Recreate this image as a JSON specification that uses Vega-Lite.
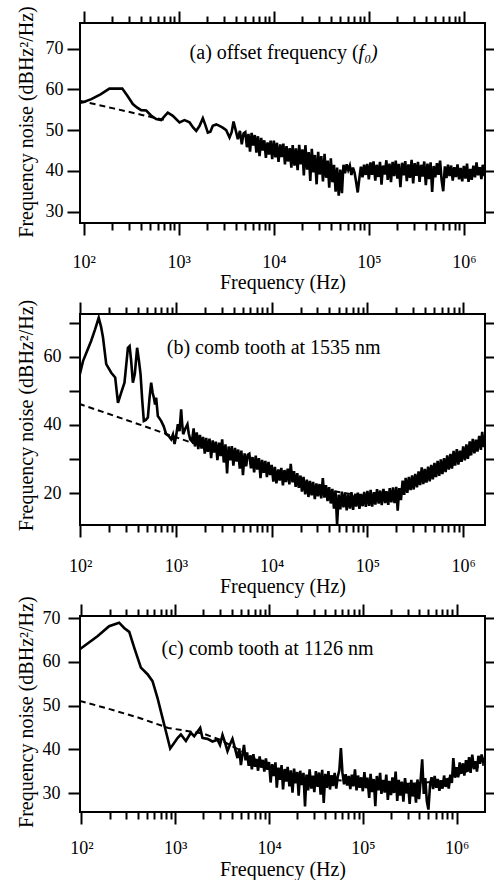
{
"$schema": "https://vega.github.io/schema/vega-lite/v6.json",
"background": "white",
"padding": {"left": 14, "top": 4, "right": 0, "bottom": 0},
"bounds": "flush",
"spacing": 91,
"config": {
  "font": "Liberation Serif",
  "view": {"stroke": "black", "strokeWidth": 2},
  "axis": {"labelFont": "Liberation Serif", "titleFont": "Liberation Serif", "labelFontSize": 18, "titleFontSize": 20, "titleFontWeight": "normal", "labelColor": "black", "titleColor": "black", "tickColor": "black", "tickWidth": 2, "grid": false, "domain": false, "labelOverlap": false, "labelFlush": false, "labelBound": false}
},
"datasets": {
"afit": [{"f":91,"v":57.2},{"f":200,"v":55.4},{"f":400,"v":53.8},{"f":760,"v":52.3}],
"a": [{"f":91,"v":56.7},{"f":100,"v":56.9},{"f":120,"v":57.6},{"f":150,"v":58.8},{"f":186,"v":60.2},{"f":254,"v":60.2},{"f":290,"v":58.3},{"f":328,"v":56.4},{"f":365,"v":55.5},{"f":402,"v":54.9},{"f":454,"v":54.8},{"f":510,"v":53.6},{"f":578,"v":52.7},{"f":653,"v":52.45},{"f":720,"v":53.6},{"f":766,"v":54.3},{"f":865,"v":53.5},{"f":1016,"v":51.9},{"f":1148,"v":52.45},{"f":1297,"v":51.9},{"f":1420,"v":50.6},{"f":1525,"v":49.8},{"f":1650,"v":51.0},{"f":1791,"v":52.9},{"f":1900,"v":51.3},{"f":2020,"v":49.4},{"f":2150,"v":49.6},{"f":2279,"v":51.05},{"f":2480,"v":51.4},{"f":2680,"v":51.05},{"f":2900,"v":50.6},{"f":3152,"v":50.0},{"f":3418,"v":48.2},{"f":3600,"v":49.5},{"f":3768,"v":52.1},{"f":3950,"v":50.2},{"f":4180,"v":47.8},{"f":4400,"v":49.8},{"f":4600,"v":46.5},{"f":4800,"v":49.2},
{"f":5010,"v":49.5},{"f":5210,"v":45.8},{"f":5410,"v":49.1},{"f":5620,"v":44.7},{"f":5840,"v":49.3},{"f":6070,"v":46.2},{"f":6310,"v":48.8},{"f":6560,"v":44.5},{"f":6810,"v":48.5},{"f":7080,"v":43.6},{"f":7360,"v":48.1},{"f":7640,"v":45.0},{"f":7940,"v":47.5},{"f":8250,"v":43.2},{"f":8580,"v":47.0},{"f":8910,"v":44.0},{"f":9260,"v":47.4},{"f":9620,"v":42.9},
{"f":10000,"v":47.4},{"f":10400,"v":43.3},{"f":10800,"v":46.9},{"f":11200,"v":42.2},{"f":11700,"v":46.5},{"f":12100,"v":43.4},{"f":12600,"v":46.7},{"f":13100,"v":41.6},{"f":13600,"v":46.1},{"f":14100,"v":42.3},{"f":14700,"v":45.6},{"f":15300,"v":40.8},{"f":15800,"v":46.3},{"f":16500,"v":41.3},{"f":17100,"v":45.5},{"f":17800,"v":40.2},{"f":18500,"v":46.4},{"f":19200,"v":41.6},{"f":20000,"v":45.3},{"f":20700,"v":38.9},{"f":21500,"v":46.3},{"f":22400,"v":40.3},{"f":23300,"v":44.6},{"f":24200,"v":37.5},{"f":25100,"v":45.4},{"f":26100,"v":39.6},{"f":27100,"v":43.9},{"f":28200,"v":36.7},{"f":29300,"v":44.7},{"f":30400,"v":39.1},{"f":31600,"v":43.6},{"f":32900,"v":37.4},{"f":34200,"v":44.2},{"f":35500,"v":38.3},{"f":36900,"v":42.5},{"f":38300,"v":35.9},{"f":39800,"v":43.1},{"f":41400,"v":37.2},{"f":43000,"v":41.5},{"f":44700,"v":34.9},{"f":46400,"v":40.8},{"f":48200,"v":33.9},{"f":50100,"v":40.3},{"f":52100,"v":34.5},{"f":54100,"v":41.5},{"f":56200,"v":39.4},{"f":58400,"v":41.6},{"f":60700,"v":40.2},{"f":63100,"v":41.3},{"f":65600,"v":39.0},{"f":68100,"v":40.8},{"f":70800,"v":39.5},{"f":73600,"v":37.2},{"f":76400,"v":34.7},{"f":79400,"v":38.1},{"f":82500,"v":41.0},{"f":85800,"v":38.4},{"f":89100,"v":41.5},{"f":92600,"v":39.0},{"f":96200,"v":41.7},
{"f":100000,"v":37.9},{"f":104000,"v":42.1},{"f":108000,"v":39.0},{"f":112000,"v":42.3},{"f":117000,"v":37.6},{"f":121000,"v":41.5},{"f":126000,"v":38.5},{"f":131000,"v":42.2},{"f":136000,"v":36.6},{"f":141000,"v":41.3},{"f":147000,"v":39.1},{"f":153000,"v":42.6},{"f":158000,"v":37.8},{"f":165000,"v":41.8},{"f":171000,"v":37.2},{"f":178000,"v":42.2},{"f":185000,"v":38.7},{"f":192000,"v":42.5},{"f":200000,"v":38.1},{"f":207000,"v":41.7},{"f":215000,"v":36.0},{"f":224000,"v":42.0},{"f":233000,"v":38.9},{"f":242000,"v":42.4},{"f":251000,"v":37.5},{"f":261000,"v":41.6},{"f":271000,"v":38.3},{"f":282000,"v":42.7},{"f":293000,"v":36.9},{"f":304000,"v":41.9},{"f":316000,"v":38.8},{"f":329000,"v":42.2},{"f":342000,"v":37.3},{"f":355000,"v":41.5},{"f":369000,"v":38.6},{"f":383000,"v":42.3},{"f":398000,"v":36.5},{"f":414000,"v":41.8},{"f":430000,"v":38.0},{"f":447000,"v":42.1},{"f":464000,"v":34.8},{"f":482000,"v":41.2},{"f":501000,"v":38.4},{"f":521000,"v":41.9},{"f":541000,"v":39.0},{"f":562000,"v":42.5},{"f":584000,"v":37.7},{"f":607000,"v":35.0},{"f":631000,"v":41.1},{"f":656000,"v":38.2},{"f":681000,"v":41.5},{"f":708000,"v":38.7},{"f":736000,"v":41.3},{"f":764000,"v":37.6},{"f":794000,"v":40.9},{"f":825000,"v":38.5},{"f":858000,"v":41.6},{"f":891000,"v":37.9},{"f":926000,"v":40.7},{"f":962000,"v":37.4},
{"f":1000000,"v":41.2},{"f":1040000,"v":38.1},{"f":1080000,"v":41.8},{"f":1120000,"v":37.3},{"f":1170000,"v":40.5},{"f":1210000,"v":37.8},{"f":1260000,"v":41.3},{"f":1310000,"v":38.4},{"f":1360000,"v":42.1},{"f":1410000,"v":38.9},{"f":1470000,"v":40.9},{"f":1530000,"v":38.0},{"f":1580000,"v":41.5},{"f":1650000,"v":38.7},{"f":1710000,"v":40.4}],
"bfit": [{"f":97,"v":46.2},{"f":200,"v":43.2},{"f":400,"v":40.3},{"f":700,"v":37.9},{"f":1000,"v":36.4},{"f":2000,"v":33.5},{"f":4000,"v":30.6},{"f":10000,"v":26.8},{"f":20000,"v":23.8},{"f":40000,"v":20.8},{"f":70000,"v":19.7},{"f":100000,"v":19.3},{"f":200000,"v":20.5},{"f":400000,"v":23.5},{"f":1000000,"v":30.0},{"f":1700000,"v":34.5}],
"b": [{"f":99,"v":54.8},{"f":107,"v":58.7},{"f":120,"v":62.2},{"f":130,"v":64.6},{"f":143,"v":68.0},{"f":156,"v":71.4},{"f":165,"v":68.8},{"f":173,"v":65.6},{"f":187,"v":57.8},{"f":211,"v":55.3},{"f":232,"v":53.9},{"f":248,"v":46.5},{"f":268,"v":49.5},{"f":290,"v":52.4},{"f":315,"v":62.6},{"f":328,"v":63.1},{"f":340,"v":59.0},{"f":355,"v":52.4},{"f":372,"v":55.0},{"f":393,"v":62.6},{"f":410,"v":59.0},{"f":427,"v":54.8},{"f":445,"v":47.0},{"f":462,"v":41.2},{"f":485,"v":41.5},{"f":509,"v":42.2},{"f":530,"v":48.0},{"f":551,"v":52.4},{"f":570,"v":49.5},{"f":588,"v":48.0},{"f":605,"v":46.0},{"f":621,"v":48.0},{"f":647,"v":42.6},{"f":700,"v":41.2},{"f":745,"v":39.6},{"f":790,"v":37.3},{"f":840,"v":36.8},{"f":891,"v":35.8},{"f":930,"v":37.2},{"f":966,"v":34.4},{"f":1000,"v":36.5},{"f":1047,"v":40.2},{"f":1090,"v":38.2},{"f":1133,"v":44.6},{"f":1160,"v":40.5},{"f":1190,"v":37.3},{"f":1250,"v":38.9},{"f":1318,"v":40.2},{"f":1360,"v":37.5},{"f":1410,"v":35.8},
{"f":1470,"v":35.2},{"f":1530,"v":39.0},{"f":1580,"v":33.7},{"f":1650,"v":37.8},{"f":1710,"v":32.9},{"f":1780,"v":37.1},{"f":1850,"v":33.1},{"f":1920,"v":36.5},{"f":2000,"v":31.6},{"f":2070,"v":36.2},{"f":2150,"v":32.1},{"f":2240,"v":36.0},{"f":2330,"v":30.3},{"f":2420,"v":35.5},{"f":2510,"v":31.9},{"f":2610,"v":35.1},{"f":2710,"v":29.7},{"f":2820,"v":34.8},{"f":2930,"v":30.9},{"f":3040,"v":35.8},{"f":3160,"v":29.0},{"f":3290,"v":34.3},{"f":3420,"v":25.8},{"f":3550,"v":33.7},{"f":3690,"v":29.6},{"f":3830,"v":33.8},{"f":3980,"v":28.1},{"f":4140,"v":33.3},{"f":4300,"v":29.3},{"f":4470,"v":32.8},{"f":4640,"v":27.2},{"f":4820,"v":32.5},{"f":5010,"v":25.3},{"f":5210,"v":31.7},{"f":5410,"v":27.9},{"f":5620,"v":31.3},{"f":5840,"v":31.6},{"f":6070,"v":27.3},{"f":6310,"v":30.6},{"f":6560,"v":26.1},{"f":6810,"v":31.0},{"f":7080,"v":26.9},{"f":7360,"v":30.3},{"f":7640,"v":24.4},{"f":7940,"v":29.8},{"f":8250,"v":26.0},{"f":8580,"v":29.5},{"f":8910,"v":24.7},{"f":9260,"v":29.2},{"f":9620,"v":25.3},
{"f":10000,"v":28.3},{"f":10400,"v":23.4},{"f":10800,"v":27.7},{"f":11200,"v":22.9},{"f":11700,"v":27.0},{"f":12100,"v":23.7},{"f":12600,"v":27.4},{"f":13100,"v":22.3},{"f":13600,"v":26.8},{"f":14100,"v":23.3},{"f":14700,"v":27.2},{"f":15300,"v":22.6},{"f":15800,"v":28.6},{"f":16500,"v":23.2},{"f":17100,"v":26.5},{"f":17800,"v":21.9},{"f":18500,"v":25.9},{"f":19200,"v":21.6},{"f":20000,"v":25.2},{"f":20700,"v":20.5},{"f":21500,"v":24.8},{"f":22400,"v":19.7},{"f":23300,"v":24.0},{"f":24200,"v":18.9},{"f":25100,"v":23.6},{"f":26100,"v":19.4},{"f":27100,"v":23.3},{"f":28200,"v":18.3},{"f":29300,"v":22.9},{"f":30400,"v":19.1},{"f":31600,"v":22.7},{"f":32900,"v":18.5},{"f":34200,"v":24.4},{"f":35500,"v":18.7},{"f":36900,"v":22.4},{"f":38300,"v":17.7},{"f":39800,"v":21.8},{"f":41400,"v":17.0},{"f":43000,"v":21.3},{"f":44700,"v":15.5},{"f":46400,"v":20.7},{"f":48200,"v":10.8},{"f":50100,"v":19.6},{"f":52100,"v":15.3},{"f":54100,"v":20.5},{"f":56200,"v":15.9},{"f":58400,"v":20.1},{"f":60700,"v":15.0},{"f":63100,"v":19.7},{"f":65600,"v":15.5},{"f":68100,"v":20.3},{"f":70800,"v":15.1},{"f":73600,"v":19.5},{"f":76400,"v":16.1},{"f":79400,"v":20.2},{"f":82500,"v":15.4},{"f":85800,"v":19.8},{"f":89100,"v":16.2},{"f":92600,"v":20.4},{"f":96200,"v":16.0},
{"f":100000,"v":20.7},{"f":104000,"v":16.3},{"f":108000,"v":21.0},{"f":112000,"v":16.1},{"f":117000,"v":20.3},{"f":121000,"v":16.7},{"f":126000,"v":21.2},{"f":131000,"v":17.0},{"f":136000,"v":20.8},{"f":141000,"v":16.5},{"f":147000,"v":21.3},{"f":153000,"v":17.1},{"f":158000,"v":20.6},{"f":165000,"v":16.6},{"f":171000,"v":21.5},{"f":178000,"v":17.3},{"f":185000,"v":21.7},{"f":192000,"v":17.1},{"f":200000,"v":21.9},{"f":207000,"v":14.9},{"f":215000,"v":21.5},{"f":224000,"v":18.0},{"f":233000,"v":23.7},{"f":242000,"v":19.5},{"f":251000,"v":24.5},{"f":261000,"v":20.1},{"f":271000,"v":24.8},{"f":282000,"v":20.9},{"f":293000,"v":25.2},{"f":304000,"v":21.1},{"f":316000,"v":25.7},{"f":329000,"v":21.7},{"f":342000,"v":26.4},{"f":355000,"v":22.4},{"f":369000,"v":27.6},{"f":383000,"v":22.7},{"f":398000,"v":27.1},{"f":414000,"v":23.1},{"f":430000,"v":27.8},{"f":447000,"v":23.5},{"f":464000,"v":28.3},{"f":482000,"v":24.1},{"f":501000,"v":28.9},{"f":521000,"v":24.7},{"f":541000,"v":29.5},{"f":562000,"v":25.1},{"f":584000,"v":29.9},{"f":607000,"v":25.6},{"f":631000,"v":30.3},{"f":656000,"v":26.2},{"f":681000,"v":31.1},{"f":708000,"v":26.9},{"f":736000,"v":31.5},{"f":764000,"v":27.2},{"f":794000,"v":32.4},{"f":825000,"v":28.1},{"f":858000,"v":32.9},{"f":891000,"v":28.4},{"f":926000,"v":32.5},{"f":962000,"v":29.2},
{"f":1000000,"v":33.7},{"f":1040000,"v":29.6},{"f":1080000,"v":34.3},{"f":1120000,"v":30.1},{"f":1170000,"v":35.2},{"f":1210000,"v":31.1},{"f":1260000,"v":35.9},{"f":1310000,"v":31.7},{"f":1360000,"v":35.7},{"f":1410000,"v":32.2},{"f":1470000,"v":36.8},{"f":1530000,"v":32.7},{"f":1580000,"v":38.0},{"f":1650000,"v":33.5},{"f":1710000,"v":37.1}],
"cfit": [{"f":96,"v":51.1},{"f":200,"v":49.2},{"f":400,"v":47.3},{"f":842,"v":44.9},{"f":2000,"v":43.6},{"f":3000,"v":42.2},{"f":5500,"v":39.2},{"f":10000,"v":36.0},{"f":20000,"v":34.0},{"f":50000,"v":33.0},{"f":100000,"v":32.5},{"f":300000,"v":32.1},{"f":700000,"v":32.7},{"f":1000000,"v":34.0},{"f":1950000,"v":36.5}],
"c": [{"f":96,"v":62.9},{"f":100,"v":63.2},{"f":148,"v":65.9},{"f":197,"v":68.2},{"f":252,"v":69.0},{"f":285,"v":67.8},{"f":323,"v":66.9},{"f":365,"v":63.3},{"f":430,"v":58.7},{"f":506,"v":57.2},{"f":572,"v":55.6},{"f":646,"v":51.8},{"f":731,"v":47.2},{"f":793,"v":44.2},{"f":883,"v":40.2},{"f":960,"v":41.3},{"f":1057,"v":42.6},{"f":1148,"v":43.4},{"f":1298,"v":41.9},{"f":1466,"v":43.8},{"f":1592,"v":43.0},{"f":1845,"v":44.9},{"f":1950,"v":42.6},{"f":2206,"v":42.4},{"f":2495,"v":41.8},{"f":2820,"v":42.2},{"f":3000,"v":41.0},{"f":3190,"v":43.3},{"f":3400,"v":41.5},{"f":3607,"v":39.6},{"f":3850,"v":41.2},{"f":4075,"v":42.4},{"f":4300,"v":40.5},{"f":4610,"v":38.0},{"f":4820,"v":40.2},{"f":5010,"v":36.4},{"f":5210,"v":38.8},{"f":5410,"v":41.0},{"f":5620,"v":37.5},
{"f":5840,"v":39.3},{"f":6070,"v":36.2},{"f":6310,"v":38.6},{"f":6560,"v":35.4},{"f":6810,"v":38.9},{"f":7080,"v":36.0},{"f":7360,"v":37.8},{"f":7640,"v":35.1},{"f":7940,"v":38.4},{"f":8250,"v":35.8},{"f":8580,"v":37.6},{"f":8910,"v":34.9},{"f":9260,"v":37.9},{"f":9620,"v":35.3},
{"f":10000,"v":37.1},{"f":10400,"v":32.4},{"f":10800,"v":36.6},{"f":11200,"v":33.9},{"f":11700,"v":37.0},{"f":12100,"v":31.2},{"f":12600,"v":35.8},{"f":13100,"v":33.0},{"f":13600,"v":36.4},{"f":14100,"v":30.8},{"f":14700,"v":35.5},{"f":15300,"v":32.6},{"f":15800,"v":36.0},{"f":16500,"v":31.5},{"f":17100,"v":35.2},{"f":17800,"v":30.1},{"f":18500,"v":35.6},{"f":19200,"v":32.2},{"f":20000,"v":34.8},{"f":20700,"v":29.4},{"f":21500,"v":35.1},{"f":22400,"v":31.8},{"f":23300,"v":34.6},{"f":24200,"v":26.9},{"f":25100,"v":34.2},{"f":26100,"v":30.6},{"f":27100,"v":35.4},{"f":28200,"v":31.0},{"f":29300,"v":34.0},{"f":30400,"v":30.2},{"f":31600,"v":35.0},{"f":32900,"v":31.4},{"f":34200,"v":34.7},{"f":35500,"v":29.6},{"f":36900,"v":35.3},{"f":38300,"v":27.7},{"f":39800,"v":34.4},{"f":41400,"v":31.2},{"f":43000,"v":35.0},{"f":44700,"v":30.8},{"f":46400,"v":34.1},{"f":48200,"v":31.6},{"f":50100,"v":34.6},{"f":52100,"v":31.0},{"f":54100,"v":33.8},{"f":56200,"v":35.2},{"f":58400,"v":40.3},{"f":60700,"v":34.6},{"f":63100,"v":32.0},{"f":65600,"v":34.3},{"f":68100,"v":31.7},{"f":70800,"v":33.9},{"f":73600,"v":30.9},{"f":76400,"v":34.2},{"f":79400,"v":31.5},{"f":82500,"v":35.4},{"f":85800,"v":30.6},{"f":89100,"v":34.0},{"f":92600,"v":31.2},{"f":96200,"v":33.6},
{"f":100000,"v":30.4},{"f":104000,"v":34.8},{"f":108000,"v":31.1},{"f":112000,"v":33.5},{"f":117000,"v":28.9},{"f":121000,"v":34.4},{"f":126000,"v":30.2},{"f":131000,"v":33.2},{"f":136000,"v":27.0},{"f":141000,"v":33.9},{"f":147000,"v":30.6},{"f":153000,"v":34.6},{"f":158000,"v":29.8},{"f":165000,"v":33.0},{"f":171000,"v":30.1},{"f":178000,"v":34.2},{"f":185000,"v":28.4},{"f":192000,"v":32.8},{"f":200000,"v":29.5},{"f":207000,"v":33.6},{"f":215000,"v":30.0},{"f":224000,"v":34.9},{"f":233000,"v":28.2},{"f":242000,"v":33.0},{"f":251000,"v":29.4},{"f":261000,"v":32.6},{"f":271000,"v":28.0},{"f":282000,"v":33.4},{"f":293000,"v":29.9},{"f":304000,"v":32.1},{"f":316000,"v":27.5},{"f":329000,"v":33.0},{"f":342000,"v":29.2},{"f":355000,"v":32.4},{"f":369000,"v":27.8},{"f":383000,"v":33.1},{"f":398000,"v":28.6},{"f":414000,"v":33.0},{"f":430000,"v":37.7},{"f":447000,"v":29.8},{"f":464000,"v":33.4},{"f":482000,"v":28.1},{"f":501000,"v":26.2},{"f":521000,"v":31.8},{"f":541000,"v":33.6},{"f":562000,"v":30.9},{"f":584000,"v":33.9},{"f":607000,"v":31.2},{"f":631000,"v":33.2},{"f":656000,"v":30.5},{"f":681000,"v":32.9},{"f":708000,"v":31.0},{"f":736000,"v":34.0},{"f":764000,"v":31.4},{"f":794000,"v":33.3},{"f":825000,"v":31.0},{"f":858000,"v":34.2},{"f":891000,"v":32.3},{"f":923000,"v":38.0},{"f":962000,"v":33.5},
{"f":1000000,"v":35.9},{"f":1040000,"v":33.6},{"f":1080000,"v":37.0},{"f":1120000,"v":34.4},{"f":1170000,"v":36.8},{"f":1210000,"v":34.0},{"f":1260000,"v":37.5},{"f":1310000,"v":35.1},{"f":1360000,"v":38.2},{"f":1410000,"v":34.6},{"f":1470000,"v":38.8},{"f":1530000,"v":35.6},{"f":1580000,"v":37.3},{"f":1650000,"v":34.9},{"f":1710000,"v":38.5},{"f":1780000,"v":36.7},{"f":1850000,"v":38.8},{"f":1920000,"v":37.1},{"f":2000000,"v":38.0}]
},
"vconcat": [
{
  "width": 405, "height": 200,
  "layer": [
    {"data": {"name": "afit"}, "mark": {"type": "line", "strokeDash": [6, 4], "strokeWidth": 2, "color": "black", "clip": true},
     "encoding": {
       "x": {"field": "f", "type": "quantitative", "scale": {"type": "log", "domain": [91.2, 1670000], "nice": false},
             "axis": {"orient": "bottom", "values": [100,200,300,400,500,600,700,800,900,1000,2000,3000,4000,5000,6000,7000,8000,9000,10000,20000,30000,40000,50000,60000,70000,80000,90000,100000,200000,300000,400000,500000,600000,700000,800000,900000,1000000],
                      "labelExpr": "datum.value == 100 ? '10²' : datum.value == 1000 ? '10³' : datum.value == 10000 ? '10⁴' : datum.value == 100000 ? '10⁵' : datum.value == 1000000 ? '10⁶' : ''",
                      "tickSize": {"condition": {"test": "indexof([100,1000,10000,100000,1000000], datum.value) >= 0", "value": 12}, "value": 7},
                      "labelPadding": 27, "labelBaseline": "middle", "title": "Frequency (Hz)", "titleY": 59, "titleBaseline": "middle"}},
       "y": {"field": "v", "type": "quantitative", "scale": {"domain": [27.2, 76.3], "nice": false, "zero": false},
             "axis": {"orient": "left", "values": [30,40,50,60,70], "tickSize": 13, "labelPadding": 4, "title": "Frequency noise (dBHz²/Hz)", "titleX": -54, "titleY": 98.5, "titleAngle": 270, "titleAlign": "center", "titleBaseline": "middle"}}
     }},
    {"data": {"name": "a"}, "mark": {"type": "line", "strokeWidth": 2.6, "color": "black", "clip": true},
     "encoding": {
       "x": {"field": "f", "type": "quantitative", "scale": {"type": "log", "domain": [91.2, 1670000], "nice": false},
             "axis": {"orient": "top", "values": [100,200,300,400,500,600,700,800,900,1000,2000,3000,4000,5000,6000,7000,8000,9000,10000,20000,30000,40000,50000,60000,70000,80000,90000,100000,200000,300000,400000,500000,600000,700000,800000,900000,1000000],
                      "labels": false, "title": null,
                      "tickSize": {"condition": {"test": "indexof([100,1000,10000,100000,1000000], datum.value) >= 0", "value": 12}, "value": 7}}},
       "y": {"field": "v", "type": "quantitative", "scale": {"domain": [27.2, 76.3], "nice": false, "zero": false},
             "axis": {"orient": "right", "values": [30,40,50,60,70], "labels": false, "title": null, "tickSize": 12}}
     }},
    {"data": {"values": [{"t": "(a) offset frequency ("}]}, "mark": {"type": "text", "align": "right", "baseline": "middle", "fontSize": 20, "font": "Liberation Serif", "color": "black"},
     "encoding": {"x": {"datum": 78000, "type": "quantitative", "axis": null}, "y": {"datum": 69, "type": "quantitative", "axis": null}, "text": {"field": "t"}}},
    {"data": {"values": [{"t": "f₀)"}]}, "mark": {"type": "text", "align": "left", "baseline": "middle", "fontSize": 20, "font": "Liberation Serif", "fontStyle": "italic", "color": "black"},
     "encoding": {"x": {"datum": 78000, "type": "quantitative", "axis": null}, "y": {"datum": 69, "type": "quantitative", "axis": null}, "text": {"field": "t"}}}
  ],
  "resolve": {"axis": {"x": "independent", "y": "independent"}}
},
{
  "width": 405, "height": 211,
  "layer": [
    {"data": {"name": "bfit"}, "mark": {"type": "line", "strokeDash": [6, 4], "strokeWidth": 2, "color": "black", "clip": true},
     "encoding": {
       "x": {"field": "f", "type": "quantitative", "scale": {"type": "log", "domain": [99.5, 1690000], "nice": false},
             "axis": {"orient": "bottom", "values": [100,200,300,400,500,600,700,800,900,1000,2000,3000,4000,5000,6000,7000,8000,9000,10000,20000,30000,40000,50000,60000,70000,80000,90000,100000,200000,300000,400000,500000,600000,700000,800000,900000,1000000],
                      "labelExpr": "datum.value == 100 ? '10²' : datum.value == 1000 ? '10³' : datum.value == 10000 ? '10⁴' : datum.value == 100000 ? '10⁵' : datum.value == 1000000 ? '10⁶' : ''",
                      "tickSize": {"condition": {"test": "indexof([100,1000,10000,100000,1000000], datum.value) >= 0", "value": 12}, "value": 7},
                      "labelPadding": 29, "labelBaseline": "middle", "title": "Frequency (Hz)", "titleY": 61, "titleBaseline": "middle"}},
       "y": {"field": "v", "type": "quantitative", "scale": {"domain": [10.7, 72.5], "nice": false, "zero": false},
             "axis": {"orient": "left", "values": [20,30,40,50,60,70], "labelExpr": "datum.value % 20 == 0 ? datum.label : ''", "tickSize": 11, "labelPadding": 8, "title": "Frequency noise (dBHz²/Hz)", "titleX": -54, "titleY": 101, "titleAngle": 270, "titleAlign": "center", "titleBaseline": "middle"}}
     }},
    {"data": {"name": "b"}, "mark": {"type": "line", "strokeWidth": 2.6, "color": "black", "clip": true},
     "encoding": {
       "x": {"field": "f", "type": "quantitative", "scale": {"type": "log", "domain": [99.5, 1690000], "nice": false},
             "axis": {"orient": "top", "values": [100,200,300,400,500,600,700,800,900,1000,2000,3000,4000,5000,6000,7000,8000,9000,10000,20000,30000,40000,50000,60000,70000,80000,90000,100000,200000,300000,400000,500000,600000,700000,800000,900000,1000000],
                      "labels": false, "title": null,
                      "tickSize": {"condition": {"test": "indexof([100,1000,10000,100000,1000000], datum.value) >= 0", "value": 12}, "value": 7}}},
       "y": {"field": "v", "type": "quantitative", "scale": {"domain": [10.7, 72.5], "nice": false, "zero": false},
             "axis": {"orient": "right", "values": [20,30,40,50,60,70], "labels": false, "title": null, "tickSize": 12}}
     }},
    {"data": {"values": [{"t": "(b) comb tooth at 1535 nm"}]}, "mark": {"type": "text", "align": "center", "baseline": "middle", "fontSize": 20, "font": "Liberation Serif", "color": "black"},
     "encoding": {"x": {"datum": 10500, "type": "quantitative", "axis": null}, "y": {"datum": 62.6, "type": "quantitative", "axis": null}, "text": {"field": "t"}}}
  ],
  "resolve": {"axis": {"x": "independent", "y": "independent"}}
},
{
  "width": 405, "height": 196,
  "layer": [
    {"data": {"name": "cfit"}, "mark": {"type": "line", "strokeDash": [6, 4], "strokeWidth": 2, "color": "black", "clip": true},
     "encoding": {
       "x": {"field": "f", "type": "quantitative", "scale": {"type": "log", "domain": [96.4, 2010000], "nice": false},
             "axis": {"orient": "bottom", "values": [100,200,300,400,500,600,700,800,900,1000,2000,3000,4000,5000,6000,7000,8000,9000,10000,20000,30000,40000,50000,60000,70000,80000,90000,100000,200000,300000,400000,500000,600000,700000,800000,900000,1000000],
                      "labelExpr": "datum.value == 100 ? '10²' : datum.value == 1000 ? '10³' : datum.value == 10000 ? '10⁴' : datum.value == 100000 ? '10⁵' : datum.value == 1000000 ? '10⁶' : ''",
                      "tickSize": {"condition": {"test": "indexof([100,1000,10000,100000,1000000], datum.value) >= 0", "value": 12}, "value": 7},
                      "labelPadding": 24, "labelBaseline": "middle", "title": "Frequency (Hz)", "titleY": 57, "titleBaseline": "middle"}},
       "y": {"field": "v", "type": "quantitative", "scale": {"domain": [25.65, 70.53], "nice": false, "zero": false},
             "axis": {"orient": "left", "values": [30,40,50,60,70], "tickSize": 12, "labelPadding": 8, "title": "Frequency noise (dBHz²/Hz)", "titleX": -54, "titleY": 95.7, "titleAngle": 270, "titleAlign": "center", "titleBaseline": "middle"}}
     }},
    {"data": {"name": "c"}, "mark": {"type": "line", "strokeWidth": 2.6, "color": "black", "clip": true},
     "encoding": {
       "x": {"field": "f", "type": "quantitative", "scale": {"type": "log", "domain": [96.4, 2010000], "nice": false},
             "axis": {"orient": "top", "values": [100,200,300,400,500,600,700,800,900,1000,2000,3000,4000,5000,6000,7000,8000,9000,10000,20000,30000,40000,50000,60000,70000,80000,90000,100000,200000,300000,400000,500000,600000,700000,800000,900000,1000000],
                      "labels": false, "title": null,
                      "tickSize": {"condition": {"test": "indexof([100,1000,10000,100000,1000000], datum.value) >= 0", "value": 12}, "value": 7}}},
       "y": {"field": "v", "type": "quantitative", "scale": {"domain": [25.65, 70.53], "nice": false, "zero": false},
             "axis": {"orient": "right", "values": [30,40,50,60,70], "labels": false, "title": null, "tickSize": 12}}
     }},
    {"data": {"values": [{"t": "(c) comb tooth at 1126 nm"}]}, "mark": {"type": "text", "align": "center", "baseline": "middle", "fontSize": 20, "font": "Liberation Serif", "color": "black"},
     "encoding": {"x": {"datum": 9640, "type": "quantitative", "axis": null}, "y": {"datum": 62.9, "type": "quantitative", "axis": null}, "text": {"field": "t"}}}
  ],
  "resolve": {"axis": {"x": "independent", "y": "independent"}}
}
]
}
